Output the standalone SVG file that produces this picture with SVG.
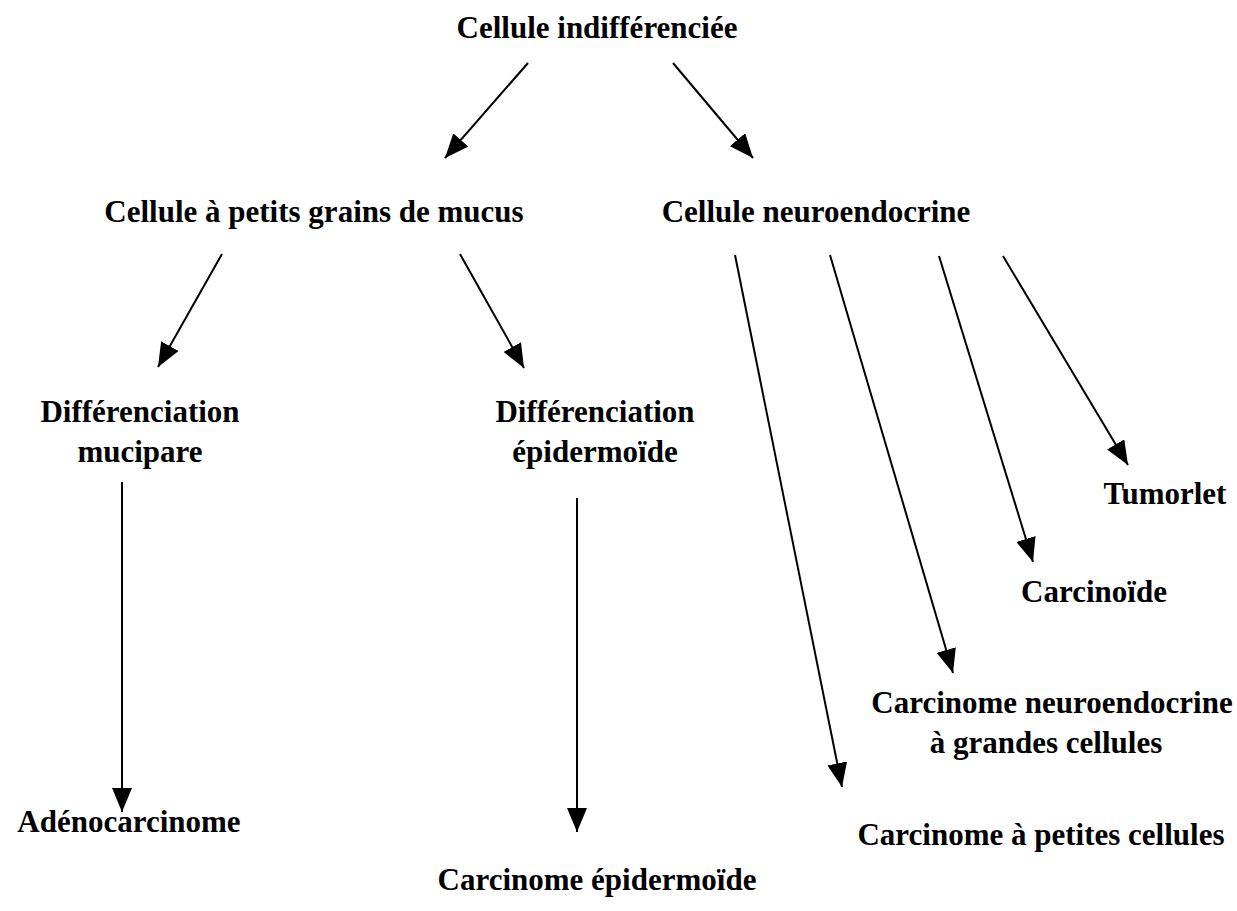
<svg xmlns="http://www.w3.org/2000/svg" width="1237" height="911" viewBox="0 0 1237 911">
<style>
text{font-family:"Liberation Serif","Times New Roman",serif;font-weight:bold;font-size:31px;fill:#000;text-anchor:middle}
.c line{stroke:#000;stroke-width:2;fill:none;marker-end:url(#ah)}
</style>
<defs>
<marker id="ah" viewBox="0 0 24 20" refX="24" refY="10" markerWidth="24" markerHeight="20" markerUnits="userSpaceOnUse" orient="auto">
<path d="M0,0 L24,10 L0,20 Z" fill="#000"/>
</marker>
</defs>
<rect width="1237" height="911" fill="#fff"/>
<g id="n-indiff"><text x="597" y="38">Cellule indifférenciée</text></g>
<g id="n-mucus"><text x="314" y="222">Cellule à petits grains de mucus</text></g>
<g id="n-neuro"><text x="816" y="222">Cellule neuroendocrine</text></g>
<g id="n-diffmuc"><text x="140" y="422">Différenciation</text><text x="140" y="462">mucipare</text></g>
<g id="n-diffepi"><text x="595" y="422">Différenciation</text><text x="595" y="462">épidermoïde</text></g>
<g id="n-tumorlet"><text x="1165" y="504">Tumorlet</text></g>
<g id="n-carcinoide"><text x="1094" y="602">Carcinoïde</text></g>
<g id="n-cngc"><text x="1052" y="713">Carcinome neuroendocrine</text><text x="1046" y="753">à grandes cellules</text></g>
<g id="n-cpc"><text x="1041" y="845">Carcinome à petites cellules</text></g>
<g id="n-adeno"><text x="129" y="832">Adénocarcinome</text></g>
<g id="n-cepi"><text x="597" y="890">Carcinome épidermoïde</text></g>
<g id="connectors" class="c">
<line x1="528" y1="63" x2="445" y2="158"/>
<line x1="673" y1="63" x2="753" y2="158"/>
<line x1="222" y1="254" x2="158" y2="367"/>
<line x1="460" y1="254" x2="524" y2="368"/>
<line x1="122" y1="482" x2="122" y2="812"/>
<line x1="577" y1="498" x2="577" y2="832"/>
<line x1="735" y1="255" x2="842" y2="787"/>
<line x1="830" y1="255" x2="953" y2="673"/>
<line x1="939" y1="256" x2="1033" y2="562"/>
<line x1="1003" y1="256" x2="1128" y2="465"/>
</g>
</svg>
